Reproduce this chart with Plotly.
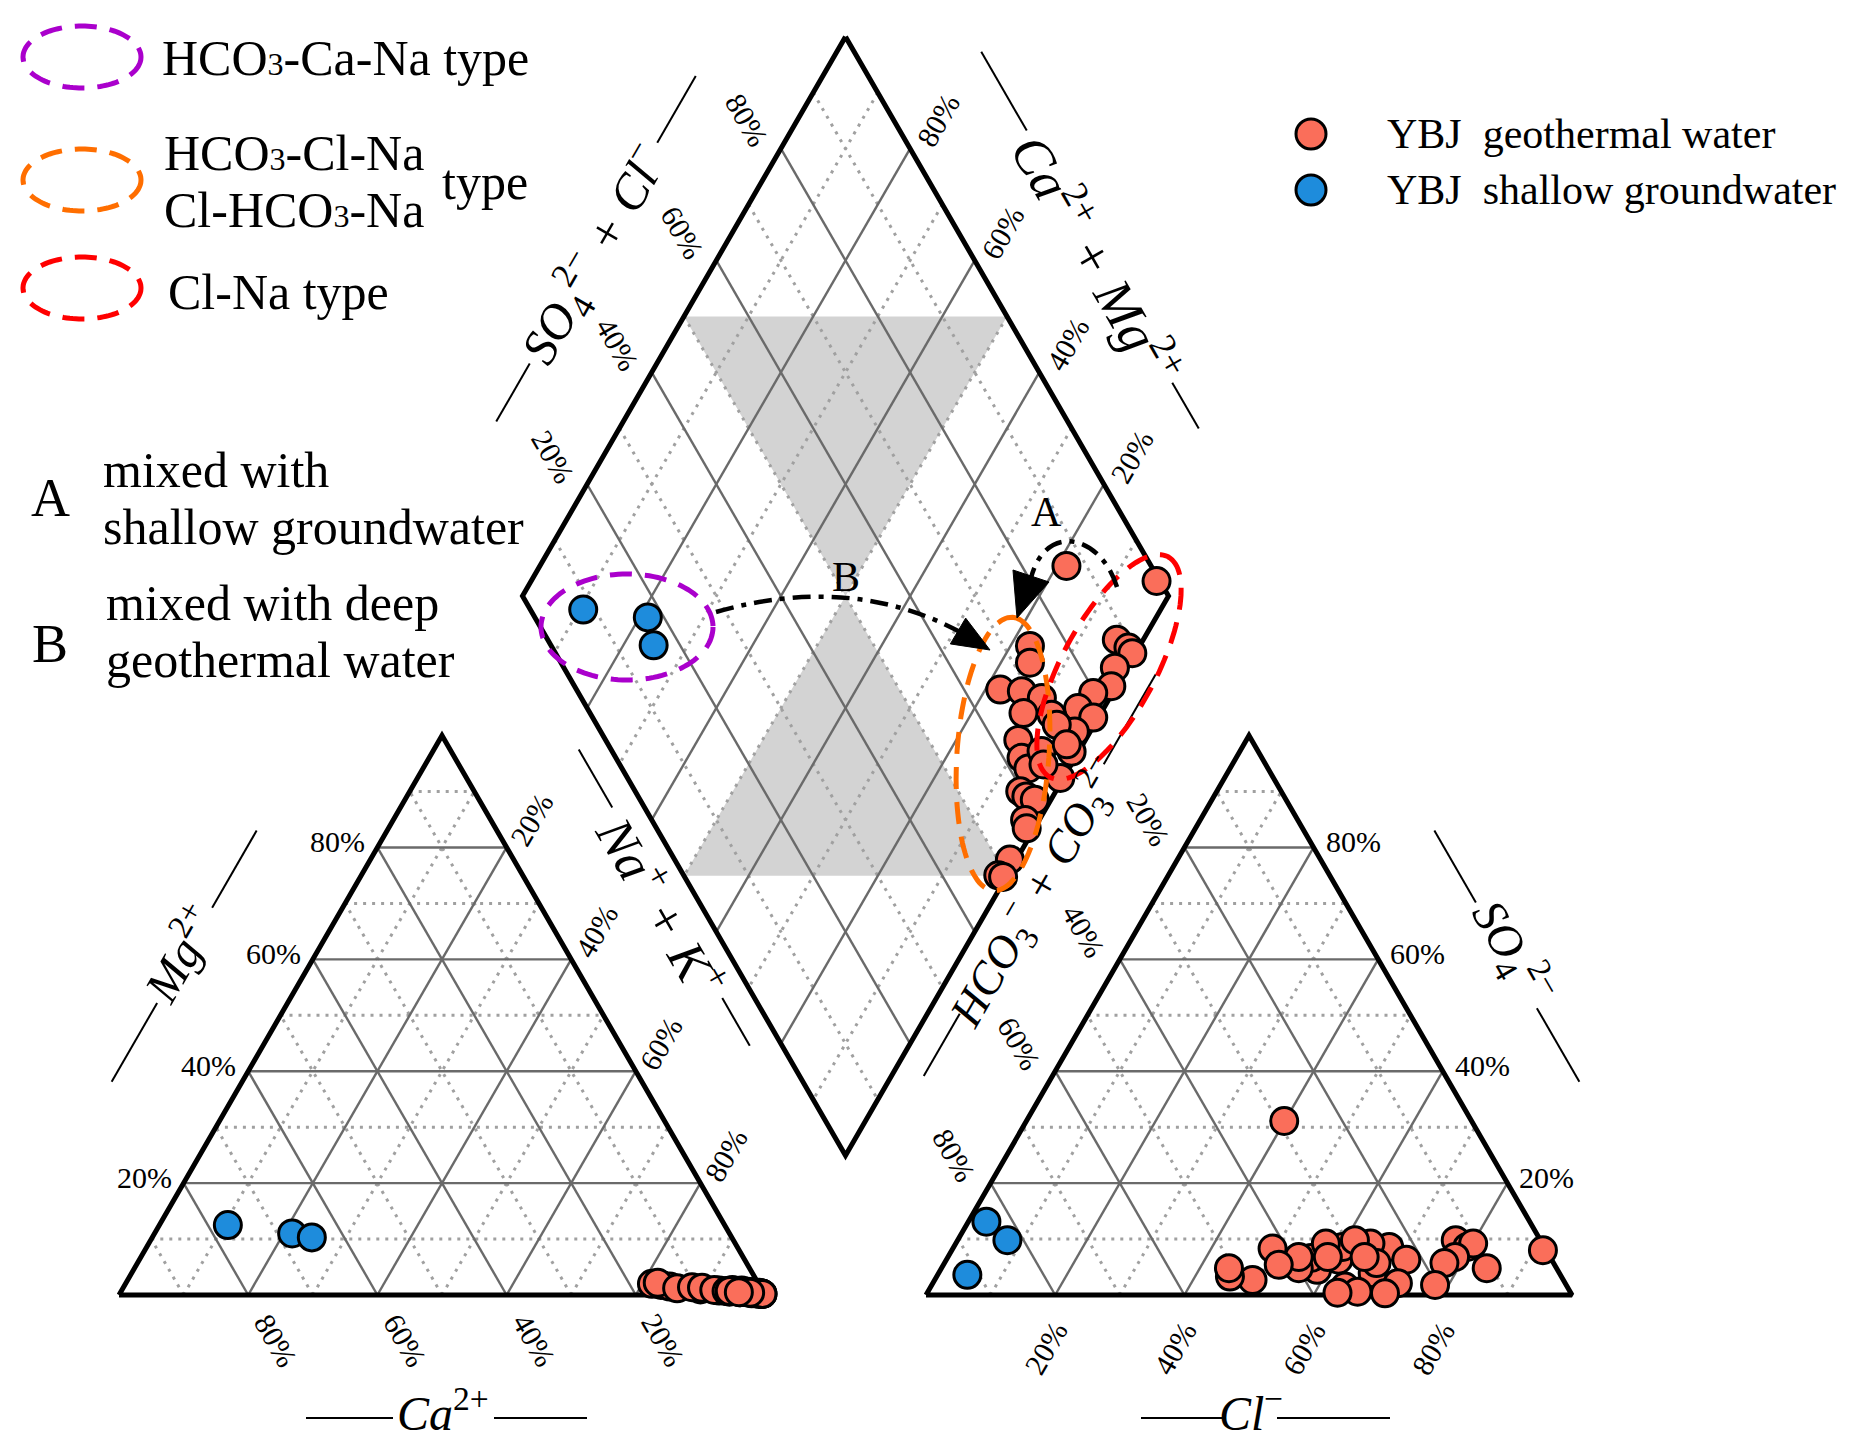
import numpy as np
import plotly.graph_objects as go

# ------------------------------------------------------------------
# Sample chemistry (% of meq/L)
# ------------------------------------------------------------------
geo_ca = [16.5, 2.7, 3.6, 1.3, 0.3, 1.5, 0.5, 2.4, 3.2, 0.5, 1.9, 0.7, 0.3, 15.2, 14.0, 15.5, 13.0, 9.5,
          10.6, 6.7, 9.1, 7.4, 5.6, 5.2, 4.6, 3.6, 2.1, 1.9, 0.9, 0.8, 1.1, 0.3, 5.1, 2.1, 3.8]
geo_mg = [2.0, 0.5, 0.5, 0.3, 0.2, 0.4, 0.3, 0.6, 0.8, 0.3, 0.5, 0.4, 0.2, 1.8, 1.5, 2.2, 1.2, 1.0,
          1.4, 0.8, 1.3, 0.9, 0.7, 0.6, 0.9, 0.5, 0.4, 0.3, 0.3, 0.2, 0.3, 0.2, 0.7, 0.4, 0.5]
geo_nak = [81.5, 96.8, 95.9, 98.4, 99.5, 98.1, 99.2, 97.0, 96.0, 99.2, 97.6, 98.9, 99.5, 83.0, 84.5, 82.3,
           85.8, 89.5, 88.0, 92.5, 89.6, 91.7, 93.7, 94.2, 94.5, 95.9, 97.5, 97.8, 98.8, 99.0, 98.6, 99.5,
           94.2, 97.5, 95.7]
geo_hco3 = [13.1, 0.5, 11.9, 10.8, 10.7, 14.7, 16.9, 20.3, 24.0, 22.5, 26.6, 28.9, 33.0, 25.9, 27.4, 34.4,
            31.2, 28.7, 32.9, 28.7, 36.1, 37.2, 37.1, 33.5, 40.4, 39.9, 38.9, 42.2, 42.7, 48.1, 51.3, 50.7,
            28.8, 29.0, 34.4]
geo_so4 = [9.8, 8.0, 8.6, 4.8, 9.2, 6.8, 5.7, 1.8, 8.6, 6.3, 9.2, 3.9, 6.3, 2.1, 5.7, 1.5, 8.6, 9.8,
           0.6, 6.8, 0.4, 4.5, 6.6, 9.2, 5.7, 4.8, 6.8, 8.3, 5.4, 2.7, 3.3, 4.8, 0.3, 31.1, 6.8]
geo_cl = [77.1, 91.5, 79.5, 84.4, 80.1, 78.5, 77.4, 77.9, 67.4, 71.2, 64.2, 67.2, 60.7, 72.0, 66.9, 64.1,
          60.2, 61.5, 66.5, 64.5, 63.5, 58.3, 56.3, 57.3, 53.9, 55.3, 54.3, 49.5, 51.9, 49.2, 45.4, 44.5,
          70.9, 39.9, 58.8]

gw_ca = [76.9, 67.7, 65.0]
gw_mg = [12.5, 11.0, 10.3]
gw_nak = [10.6, 21.3, 24.7]
gw_hco3 = [91.8, 82.5, 84.1]
gw_so4 = [3.6, 9.8, 13.1]
gw_cl = [4.6, 7.7, 2.8]

tick_values = [20, 40, 60, 80]
series_names = ["YBJ\u00a0 geothermal water", "YBJ\u00a0 shallow groundwater"]

# ------------------------------------------------------------------
# Piper geometry (pixel space)
# ------------------------------------------------------------------
SERIF = "Liberation Serif, Times New Roman, serif"
GEO_C, GW_C = "#FA6E5A", "#1E8CDC"
SQ3 = np.sqrt(3.0)
X0, Y0, S, GAP = 119.0, 1295.0, 646.0, 161.0
H = S * SQ3 / 2
A = np.array([X0, Y0]); B = np.array([X0 + S, Y0]); C = np.array([X0 + S / 2, Y0 - H])
D = np.array([X0 + S + GAP, Y0]); E = np.array([X0 + 2 * S + GAP, Y0]); F = np.array([X0 + 1.5 * S + GAP, Y0 - H])
BM = np.array([X0 + S + GAP / 2, Y0 - GAP * SQ3 / 2])
TP = BM - np.array([0, 2 * H])
LV = BM + np.array([-S / 2, -H])
RV = BM + np.array([S / 2, -H])


def bary(P1, P2, P3, a, b, c):
    a, b, c = (np.asarray(v, float) for v in (a, b, c))
    t = a + b + c
    p = np.outer(a / t, P1) + np.outer(b / t, P2) + np.outer(c / t, P3)
    return p[:, 0], p[:, 1]


def dia(n, h):
    n = np.asarray(n, float); h = np.asarray(h, float)
    p = TP + np.multiply.outer(n, RV - TP) + np.multiply.outer(h, LV - TP)
    return p[..., 0], p[..., 1]


def cation_xy(ca, mg, na):
    return bary(A, C, B, ca, mg, na)


def anion_xy(hco3, so4, cl):
    return bary(D, F, E, hco3, so4, cl)


def diamond_xy(ca, mg, na, hco3, so4, cl):
    ca, mg, na, hco3, so4, cl = (np.asarray(v, float) for v in (ca, mg, na, hco3, so4, cl))
    n = na / (ca + mg + na)
    h = hco3 / (hco3 + so4 + cl)
    return dia(n, h)


fig = go.Figure()


def seg_trace(segs, color, width, dash=None):
    xs, ys = [], []
    for p, q in segs:
        xs += [p[0], q[0], None]
        ys += [p[1], q[1], None]
    fig.add_trace(go.Scatter(x=xs, y=ys, mode="lines", hoverinfo="skip",
                             line=dict(color=color, width=width, dash=dash)))


def tri_grid(P1, P2, P3, levels):
    segs = []
    for p in levels:
        segs.append((p * P1 + (1 - p) * P2, p * P1 + (1 - p) * P3))
        segs.append((p * P2 + (1 - p) * P1, p * P2 + (1 - p) * P3))
        segs.append((p * P3 + (1 - p) * P1, p * P3 + (1 - p) * P2))
    return segs


def dia_grid(levels):
    segs = []
    for p in levels:
        segs.append((np.array(dia(p, 0.0)), np.array(dia(p, 1.0))))
        segs.append((np.array(dia(0.0, p)), np.array(dia(1.0, p))))
    return segs


# grey hourglass in diamond
for poly in [((0, .5), (.5, 0), (.5, .5)), ((.5, 1), (1, .5), (.5, .5))]:
    px, py = dia([q[0] for q in poly], [q[1] for q in poly])
    fig.add_trace(go.Scatter(x=list(px) + [px[0]], y=list(py) + [py[0]], mode="lines", fill="toself",
                             fillcolor="#D3D3D3", line=dict(width=0), hoverinfo="skip"))

solid = [v / 100 for v in tick_values]
dotted = [0.1, 0.3, 0.5, 0.7, 0.9]
seg_trace(tri_grid(A, B, C, dotted) + tri_grid(D, E, F, dotted) + dia_grid(dotted),
          "#A0A0A0", 3, "3px,6px")
seg_trace(tri_grid(A, B, C, solid) + tri_grid(D, E, F, solid) + dia_grid(solid), "#6A6A6A", 2.4)

# outlines
for poly in [(A, B, C), (D, E, F), (TP, RV, BM, LV)]:
    xs = [p[0] for p in poly] + [poly[0][0]]
    ys = [p[1] for p in poly] + [poly[0][1]]
    fig.add_trace(go.Scatter(x=xs, y=ys, mode="lines", hoverinfo="skip",
                             line=dict(color="black", width=5)))

# data points
for name, col, ca, mg, na, hc, so, cl in [
        (series_names[0], GEO_C, geo_ca, geo_mg, geo_nak, geo_hco3, geo_so4, geo_cl),
        (series_names[1], GW_C, gw_ca, gw_mg, gw_nak, gw_hco3, gw_so4, gw_cl)]:
    for xy in (cation_xy(ca, mg, na), anion_xy(hc, so, cl), diamond_xy(ca, mg, na, hc, so, cl)):
        fig.add_trace(go.Scatter(x=xy[0], y=xy[1], mode="markers", name=name,
                                 marker=dict(size=27, color=col, line=dict(color="black", width=3))))


# ------------------------------------------------------------------
# text helpers
# ------------------------------------------------------------------
def txt(x, y, t, size=30, ang=0, xa="center", ya="middle"):
    fig.add_annotation(x=x, y=y, text=t, textangle=ang, xanchor=xa, yanchor=ya, showarrow=False,
                       font=dict(family=SERIF, size=size, color="black"))


def line(p, q, w=2, color="black"):
    fig.add_shape(type="line", x0=p[0], y0=p[1], x1=q[0], y1=q[1], line=dict(color=color, width=w))


# tick labels
for v in tick_values:
    p = v / 100
    t = f"{v}%"
    pt = p * A + (1 - p) * B; txt(pt[0] + 28, pt[1] + 45, t, ang=60)            # Ca (bottom)
    pt = p * C + (1 - p) * A; txt(pt[0] - 10, pt[1] - 6, t, xa="right")         # Mg (left)
    pt = p * B + (1 - p) * C; txt(pt[0] + 25, pt[1] - 28, t, ang=-60)           # Na+K (right)
    pt = p * E + (1 - p) * D; txt(pt[0] - 10, pt[1] + 53, t, ang=-60)           # Cl (bottom)
    pt = p * D + (1 - p) * F; txt(pt[0] - 36, pt[1] - 28, t, ang=60)            # HCO3 (left)
    pt = p * F + (1 - p) * E; txt(pt[0] + 10, pt[1] - 6, t, xa="left")          # SO4 (right)
    x, y = dia(0.0, 1 - p); txt(float(x) - 34, float(y) - 28, t, ang=60)        # SO4+Cl
    x, y = dia(1 - p, 0.0); txt(float(x) + 28, float(y) - 28, t, ang=-60)       # Ca+Mg


# axis titles with flanking rules
def edge_title(origin, u, nrm, along, perp, text, ang, seg1, seg2, lperp=None, size=48):
    origin = np.asarray(origin, float); u = np.asarray(u, float); nrm = np.asarray(nrm, float)
    c = origin + along * u + perp * nrm
    txt(c[0], c[1], text, size=size, ang=ang)
    lp = perp if lperp is None else lperp
    for s0, s1 in (seg1, seg2):
        line(origin + s0 * u + lp * nrm, origin + s1 * u + lp * nrm)


k = np.array([0.5, SQ3 / 2])
edge_title((0, 1410), (1, 0), (0, 1), 443, 0, "<i>Ca</i><sup>2+</sup>", 0, (306, 393), (494, 587), lperp=8)
edge_title((0, 1410), (1, 0), (0, 1), 1251, 0, "<i>Cl</i><sup>\u2212</sup>", 0, (1141, 1226), (1277, 1390), lperp=8)
edge_title(A, (k[0], -k[1]), (-k[1], -k[0]), 326, 120, "<i>Mg</i><sup>2+</sup>", -60, (181, 272), (382, 471), lperp=113)
edge_title(E, (-k[0], -k[1]), (k[1], -k[0]), 326, 120, "<i>SO</i><sub>4</sub><sup>2\u2212</sup>", 60,
           (181, 266), (388, 471), lperp=113)
edge_title(LV, (k[0], k[1]), (-k[1], k[0]), 338, 34, "<i>Na</i><sup>+</sup><i> + K</i><sup>+</sup>", 60,
           (161, 228), (448, 503), lperp=28, size=52)
edge_title(RV, (-k[0], k[1]), (k[1], k[0]), 322, 34,
           "<i>HCO</i><sub>3</sub><sup>\u2212</sup><i> + CO</i><sub>3</sub><sup>2\u2212</sup>", -60,
           (74, 178), (466, 538), lperp=28, size=46)
edge_title(LV, (k[0], -k[1]), (-k[1], -k[0]), 332, 108,
           "<i>SO</i><sub>4</sub><sup>2\u2212</sup><i> + Cl</i><sup>\u2212</sup>", -60,
           (138, 205), (460, 537), lperp=110, size=50)
edge_title(RV, (-k[0], -k[1]), (k[1], -k[0]), 328, 108,
           "<i>Ca</i><sup>2+</sup><i> + Mg</i><sup>2+</sup>", 60,
           (130, 183), (474, 565), lperp=110, size=54)


# ------------------------------------------------------------------
# ellipses, arrows, legends
# ------------------------------------------------------------------
def ellipse_path(cx, cy, a, b, ang_deg, n=120):
    t = np.linspace(0, 2 * np.pi, n + 1)
    g = np.radians(ang_deg)
    x = cx + a * np.cos(t) * np.cos(g) - b * np.sin(t) * np.sin(g)
    y = cy + a * np.cos(t) * np.sin(g) + b * np.sin(t) * np.cos(g)
    return "M " + " L ".join(f"{xx:.1f},{yy:.1f}" for xx, yy in zip(x, y)) + " Z"


def ellipse(cx, cy, a, b, ang, color):
    fig.add_shape(type="path", path=ellipse_path(cx, cy, a, b, ang), layer="above",
                  line=dict(color=color, width=5, dash="22px,13px"))


PURPLE, ORANGE, RED = "#AA00CC", "#FF6E00", "#FF0000"
ellipse(627, 627, 86, 53, 0, PURPLE)
ellipse(1003, 754, 137, 46, -86, ORANGE)
ellipse(1109, 667, 125, 47, -61.8, RED)


def arrow_head(tip, base_mid, width):
    tip = np.asarray(tip, float); bm = np.asarray(base_mid, float)
    d = tip - bm; d = d / np.linalg.norm(d)
    nn = np.array([-d[1], d[0]]) * width / 2
    p1, p2 = bm + nn, bm - nn
    fig.add_shape(type="path", layer="above", fillcolor="black", line=dict(color="black", width=1),
                  path=f"M {tip[0]},{tip[1]} L {p1[0]},{p1[1]} L {p2[0]},{p2[1]} Z")


DD = "18px,8px,5px,8px"
fig.add_shape(type="path", layer="above", path="M 716,612 Q 852,573 962,633",
              line=dict(color="black", width=4.5, dash=DD))
arrow_head((990, 650), (958, 631), 30)
fig.add_shape(type="path", layer="above", path="M 1117,587 C 1100,533 1045,523 1031,578",
              line=dict(color="black", width=4.5, dash=DD))
arrow_head((1017, 618), (1031, 576), 38)

txt(1046, 512, "A", size=42)
txt(846, 577, "B", size=42)

# left legend (water types)
SUB3 = '<span style="font-size:32px">3</span>'
ellipse(82, 57, 59, 31, 0, PURPLE)
ellipse(82, 180, 59, 31, 0, ORANGE)
ellipse(82, 288, 59, 31, 0, RED)
txt(160, 58, f"HCO{SUB3}-Ca-Na type", size=50, xa="left")
txt(162, 153, f"HCO{SUB3}-Cl-Na", size=50, xa="left")
txt(162, 210, f"Cl-HCO{SUB3}-Na", size=50, xa="left")
txt(440, 182, "type", size=50, xa="left")
txt(166, 292, "Cl-Na type", size=50, xa="left")

# mixing notes
txt(50, 498, "A", size=54)
txt(101, 470, "mixed with", size=50, xa="left")
txt(101, 527, "shallow groundwater", size=50, xa="left")
txt(50, 644, "B", size=54)
txt(104, 603, "mixed with deep", size=50, xa="left")
txt(104, 660, "geothermal water", size=50, xa="left")

# right legend (series)
for (cy, col, name) in [(134, GEO_C, series_names[0]), (190, GW_C, series_names[1])]:
    fig.add_shape(type="circle", x0=1296, x1=1326, y0=cy - 15, y1=cy + 15, layer="above",
                  fillcolor=col, line=dict(color="black", width=3))
    txt(1385, cy, name, size=42, xa="left")

fig.update_layout(
    width=1860, height=1444, margin=dict(l=0, r=0, t=0, b=0),
    paper_bgcolor="white", plot_bgcolor="white", showlegend=False,
    xaxis=dict(range=[0, 1860], visible=False, fixedrange=True),
    yaxis=dict(range=[1444, 0], visible=False, fixedrange=True),
)
fig.write_html("out.html", config={"displayModeBar": False},
               post_script="document.body.style.margin='0';")
